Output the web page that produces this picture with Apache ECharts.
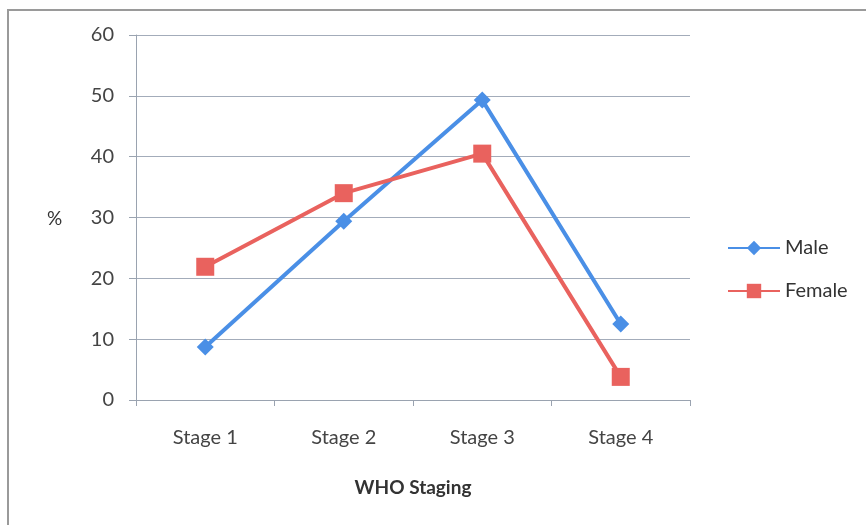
<!DOCTYPE html>
<html>
<head>
<meta charset="utf-8">
<script src="https://cdn.jsdelivr.net/npm/echarts@6/dist/echarts.min.js"></script>
<style>
  html, body { margin: 0; padding: 0; background: #fff; }
  #chart { width: 866px; height: 525px; }
</style>
</head>
<body>
<div id="chart"></div>
<script>
// WHO staging distribution by sex (%)
const stages = ['Stage 1', 'Stage 2', 'Stage 3', 'Stage 4'];
const maleValues = [8.7, 29.4, 49.3, 12.5];
const femaleValues = [21.9, 34.0, 40.5, 3.8];
const yTicks = { min: 0, max: 60, step: 10 };

const fontFamily = 'Lato, "Open Sans", sans-serif';
const gridColor = '#a3acba';

const chart = echarts.init(document.getElementById('chart'));
chart.setOption({
  backgroundColor: '#ffffff',
  animation: false,
  graphic: [{
    type: 'rect',
    shape: { x: 8, y: 10, width: 870, height: 530 },
    style: { fill: 'none', stroke: '#9a9a9a', lineWidth: 2 }
  }, {
    type: 'text',
    left: 47, top: 209,
    style: { text: '%', font: '19px ' + fontFamily, fill: '#333' }
  }],
  grid: { left: 136, right: 176, top: 35, bottom: 125 },
  xAxis: {
    type: 'category',
    data: stages,
    boundaryGap: true,
    name: 'WHO Staging',
    nameLocation: 'middle',
    nameGap: 78,
    nameTextStyle: { fontFamily, fontSize: 19, fontWeight: 'bold', color: '#333' },
    axisLine: { lineStyle: { color: '#9aa3b0', width: 1 } },
    axisTick: { show: true, alignWithLabel: false, length: 6, lineStyle: { color: '#9aa3b0' } },
    axisLabel: { fontFamily, fontSize: 20, color: '#444', margin: 28 }
  },
  yAxis: {
    type: 'value',
    min: yTicks.min, max: yTicks.max, interval: yTicks.step,
    axisLine: { show: true, lineStyle: { color: '#9aa3b0' } },
    axisTick: { show: true, length: 7, inside: false, lineStyle: { color: '#9aa3b0' } },
    axisLabel: { fontFamily, fontSize: 20, color: '#444', margin: 22 },
    splitLine: { lineStyle: { color: gridColor, width: 1 } }
  },
  legend: {
    orient: 'vertical',
    left: 722, top: 233,
    itemWidth: 52, itemHeight: 18, itemGap: 23,
    textStyle: { fontFamily, fontSize: 20, color: '#333' },
    data: ['Male', 'Female']
  },
  series: [{
    name: 'Male',
    type: 'line',
    data: maleValues,
    symbol: 'diamond',
    symbolSize: 17,
    lineStyle: { color: '#4a8fe6', width: 4 },
    itemStyle: { color: '#4a8fe6' }
  }, {
    name: 'Female',
    type: 'line',
    data: femaleValues,
    symbol: 'rect',
    symbolSize: 18,
    lineStyle: { color: '#e9625e', width: 4 },
    itemStyle: { color: '#e9625e' }
  }]
});
</script>
</body>
</html>
